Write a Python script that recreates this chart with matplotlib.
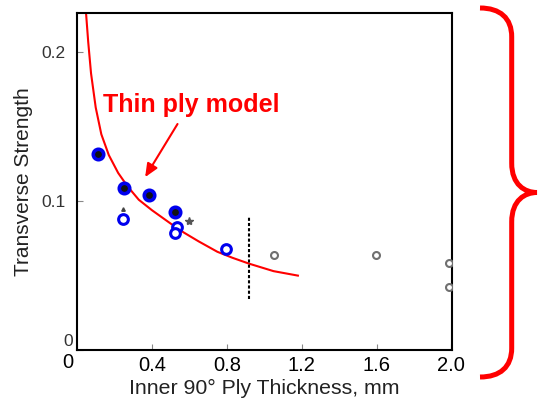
import numpy as np
import matplotlib
matplotlib.use('Agg')
import matplotlib.pyplot as plt
from matplotlib.path import Path
from matplotlib.patches import PathPatch

plt.rcParams['font.family'] = ['Liberation Sans', 'DejaVu Sans']

filled_x = [0.114, 0.252, 0.387, 0.525]
filled_y = [0.132, 0.109, 0.104, 0.093]

open_x = [0.248, 0.534, 0.525, 0.796]
open_y = [0.088, 0.083, 0.0786, 0.0678]

grey_x = [1.051, 1.596, 1.985, 1.985]
grey_y = [0.0638, 0.0638, 0.0584, 0.0426]

star_x, star_y = [0.600], [0.0864]
tick_x, tick_y = [0.248], [0.0947]

# thin ply model curve
model_x = [0.048, 0.060, 0.075, 0.10, 0.13, 0.17, 0.22, 0.27, 0.33, 0.40,
           0.50, 0.57, 0.65, 0.75, 0.83, 0.92, 1.05, 1.18]
model_y = [0.227, 0.207, 0.186, 0.163, 0.145, 0.131, 0.119, 0.110, 0.101, 0.094,
           0.085, 0.079, 0.073, 0.066, 0.062, 0.058, 0.053, 0.050]

cutoff_x = 0.917
cutoff_y = [0.0345, 0.090]

xticks = [0.4, 0.8, 1.2, 1.6, 2.0]
yticks = [0.1, 0.2]

fig = plt.figure(figsize=(5.38, 3.98), dpi=100)
ax = fig.add_axes([0.1431, 0.1206, 0.697, 0.8467])

ax.plot(model_x, model_y, color='#ff0000', lw=1.5, zorder=2)
ax.plot([cutoff_x, cutoff_x], cutoff_y, color='black', lw=1.5, ls=(0, (1.5, 1)), zorder=2)

ax.plot(grey_x, grey_y, 'o', ms=5, mfc='white', mec='#707070', mew=1.5, ls='none', zorder=3)
ax.plot(star_x, star_y, '*', ms=6, color='#555555', ls='none', zorder=3)
ax.plot(tick_x, tick_y, '^', ms=2.5, color='#444444', ls='none', zorder=3)
ax.plot(open_x, open_y, 'o', ms=7, mfc='white', mec='#0000ee', mew=2.2, ls='none', zorder=4)
ax.plot(filled_x, filled_y, 'o', ms=7.5, mfc='#111111', mec='#0000ee', mew=2.6, ls='none', zorder=4)

ax.text(0.1376, 0.1598, 'Thin ply model', color='#ff0000', fontsize=18,
        fontweight='bold', ha='left', va='baseline')
ax.annotate('', xy=(0.364, 0.1162), xytext=(0.537, 0.1519),
            arrowprops=dict(arrowstyle='-|>,head_length=0.8,head_width=0.35',
                            color='#ff0000', lw=1.5, shrinkA=0, shrinkB=0))

ax.set_xlim(0, 2.003)
ax.set_ylim(0, 0.2265)
ax.set_xticks([0] + xticks)
ax.set_xticklabels([''] + ['%.1f' % v for v in xticks], fontsize=14.5)
ax.set_yticks([0] + yticks)
ax.set_yticklabels([''] + ['%.1f' % v for v in yticks], fontsize=12.5, color='#333333')
ax.tick_params(axis='both', direction='in', length=4, color='#888888')
ax.tick_params(axis='x', pad=4)
ax.tick_params(axis='y', pad=8)
for s in ax.spines.values():
    s.set_linewidth(1.5)
    s.set_color('black')

# the two zero labels sit apart from the others
fig.text(68 / 538, 1 - 341 / 398, '0', fontsize=12.5, color='#333333', ha='center', va='center')
fig.text(68 / 538, 1 - 362 / 398, '0', fontsize=14.5, color='black', ha='center', va='center')

ax.set_xlabel('Inner 90\u00b0 Ply Thickness, mm', fontsize=15.3, color='#222222', labelpad=3)
ax.set_ylabel('Transverse Strength', fontsize=15, color='#222222', labelpad=6)

# red brace on the right, in figure pixels
W, H = 538.0, 398.0
pts = [(480, 8), (500, 8), (511.7, 18), (511.7, 37),
       (511.7, 163),
       (511.7, 185), (525, 192.5), (537, 192.5),
       (525, 192.5), (511.7, 200), (511.7, 222),
       (511.7, 348),
       (511.7, 367), (500, 377), (480, 377)]
codes = [Path.MOVETO, Path.CURVE4, Path.CURVE4, Path.CURVE4,
         Path.LINETO,
         Path.CURVE4, Path.CURVE4, Path.CURVE4,
         Path.CURVE4, Path.CURVE4, Path.CURVE4,
         Path.LINETO,
         Path.CURVE4, Path.CURVE4, Path.CURVE4]
verts = [(x / W, 1 - y / H) for x, y in pts]
brace = PathPatch(Path(verts, codes), facecolor='none', edgecolor='#ff0000',
                  lw=3.6, transform=fig.transFigure, capstyle='butt')
fig.patches.append(brace)

fig.savefig('out.png', dpi=100)
